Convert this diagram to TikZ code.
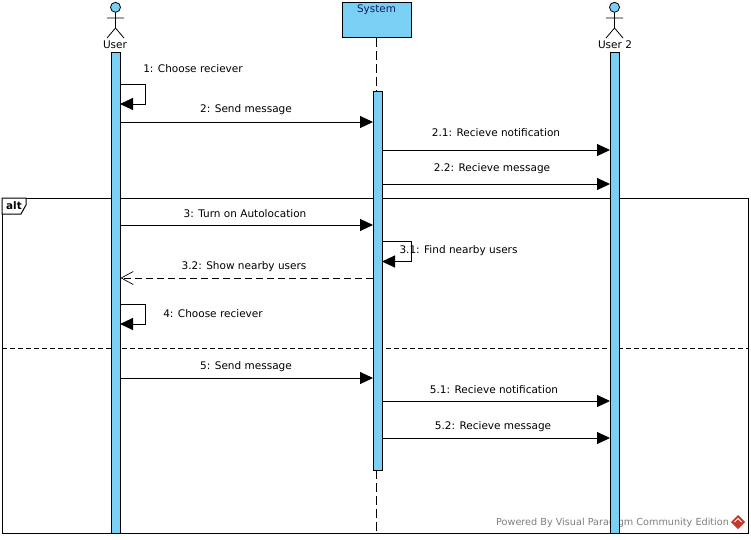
\documentclass[tikz,border=0pt]{standalone}
\usepackage{fontspec}
\setmainfont{DejaVu Sans}
\usetikzlibrary{arrows.meta}
\definecolor{vpblue}{HTML}{7ACFF5}
\definecolor{vpnavy}{HTML}{0A1F5C}
\definecolor{vpgray}{HTML}{7F7F7F}
\definecolor{vpred}{HTML}{C8352B}
\tikzset{
  x=1pt,y=-1pt,
  lbl/.style={font=\fontsize{10.5}{12}\selectfont,inner sep=0pt,text=black},
  bar/.style={draw=black,fill=vpblue,line width=1pt,minimum width=9pt,inner sep=0pt,anchor=north},
  msg/.style={draw=black,line width=1pt,shorten >=-.5pt,-{Triangle[length=13pt,width=12pt]}},
  reply/.style={draw=black,line width=1pt,dash pattern=on 7pt off 4pt,-{Straight Barb[length=12pt,width=13pt,line width=.7pt]}},
  stick/.style={draw=black,line width=.8pt},
  lifeline/.style={draw=black,line width=1pt,dash pattern=on 9pt off 4pt},
  framebox/.style={draw=black,line width=1pt},
}
\begin{document}
\begin{tikzpicture}
\useasboundingbox (0,0) rectangle (751,539);
\fill[white] (0,0) rectangle (751,539);
% footer behind everything
\node[font=\fontsize{9.67}{11}\selectfont,text=vpgray,inner sep=0pt,anchor=west] (footer) at (496,522.5) {Powered By Visual Paradigm Community Edition};
\fill[vpred] (738,515) -- (745,522) -- (738,529) -- (731,522) -- cycle;
\draw[white,line width=1pt] (734.5,522) -- (738,518.5) -- (741.5,522);
% frame
\node[framebox,minimum width=746pt,minimum height=335pt,inner sep=0pt,anchor=north west] (frame) at (2,198) {};
\draw[framebox,fill=white] (2,198) -- (26,198) -- (26,205) -- (21,214) -- (2,214) -- cycle;
\node[font=\fontsize{10.4}{12}\selectfont\bfseries,inner sep=0pt] (altlbl) at (14,206) {alt};
\draw[framebox,dash pattern=on 5pt off 3pt] (frame.west |- 0,348) -- (frame.east |- 0,348);
% lifelines
\node[draw=black,fill=vpblue,line width=1pt,minimum width=69pt,minimum height=35pt,inner sep=0pt,anchor=north] (syshead) at (376.5,2) {};
\node[font=\fontsize{10.4}{12}\selectfont,text=vpnavy,inner sep=0pt] (systxt) at (376.5,9.5) {System};
\node[bar,minimum height=481pt] (ubar) at (115.5,52) {};
\node[bar,minimum height=481pt] (vbar) at (614.5,52) {};
\node[bar,minimum height=379pt] (sbar) at (377.5,91) {};
\draw[lifeline] (syshead.south -| sbar.north) ++(-1,0) -- (376.5,91);
\draw[lifeline] (376.5,470) -- (376.5,533);
% actors
\draw[stick,fill=vpblue] (115.5,7.3) circle (5);
\draw[stick] (115.5,12.3) -- (115.5,28) (107,18) -- (124,18) (107,38) -- (115.5,28) -- (124,38);
\node[lbl] (ulbl) at (115,44.5) {User};
\draw[stick,fill=vpblue] (614.5,7.3) circle (5);
\draw[stick] (614.5,12.3) -- (614.5,28) (606,18) -- (623,18) (606,38) -- (614.5,28) -- (623,38);
\node[lbl] (vlbl) at (615,44.5) {User 2};
% messages
\draw[msg] (ubar.east |- 0,84) -- (145.5,84) -- (145.5,104) -- (ubar.east |- 0,104);
\node[lbl] (m1) at (193,68.5) {1: Choose reciever};
\draw[msg] (ubar.east |- 0,122) -- (sbar.west |- 0,122);
\node[lbl] (m2) at (246,109.5) {2: Send message};
\draw[msg] (sbar.east |- 0,150) -- (vbar.west |- 0,150);
\node[lbl] (m21) at (496,132.5) {2.1: Recieve notification};
\draw[msg] (sbar.east |- 0,184) -- (vbar.west |- 0,184);
\node[lbl] (m22) at (492,168.5) {2.2: Recieve message};
\draw[msg] (ubar.east |- 0,225) -- (sbar.west |- 0,225);
\node[lbl] (m3) at (245,213.5) {3: Turn on Autolocation};
\draw[msg] (sbar.east |- 0,241.5) -- (411.5,241.5) -- (411.5,261.5) -- (sbar.east |- 0,261.5);
\node[lbl] (m31) at (458.5,250.5) {3.1: Find nearby users};
\draw[reply] (sbar.west |- 0,278) -- (ubar.east |- 0,278);
\node[lbl] (m32) at (244,266.5) {3.2: Show nearby users};
\draw[msg] (ubar.east |- 0,304) -- (145.5,304) -- (145.5,324) -- (ubar.east |- 0,324);
\node[lbl] (m4) at (213,313.5) {4: Choose reciever};
\draw[msg] (ubar.east |- 0,378) -- (sbar.west |- 0,378);
\node[lbl] (m5) at (246,366.5) {5: Send message};
\draw[msg] (sbar.east |- 0,401) -- (vbar.west |- 0,401);
\node[lbl] (m51) at (494,389.5) {5.1: Recieve notification};
\draw[msg] (sbar.east |- 0,438) -- (vbar.west |- 0,438);
\node[lbl] (m52) at (493,426.5) {5.2: Recieve message};
\end{tikzpicture}
\end{document}
